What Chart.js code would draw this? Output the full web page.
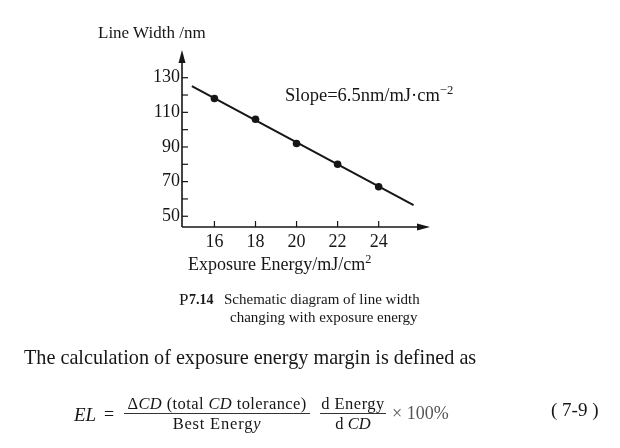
<!DOCTYPE html>
<html>
<head>
<meta charset="utf-8">
<script src="https://cdn.jsdelivr.net/npm/chart.js@4.4.1/dist/chart.umd.min.js"></script>
<style>
  html, body { margin: 0; padding: 0; background: #fff; }
  body { width: 620px; height: 448px; position: relative; overflow: hidden;
         font-family: "Liberation Serif", "Times New Roman", serif; color: #161616; }
  #chart { position: absolute; left: 0; top: 0; }
  .t { position: absolute; white-space: nowrap; line-height: 1; }
  .bar { position: absolute; height: 1px; background: #333; }
  .c { text-align: center; }
  sup { font-size: 0.68em; vertical-align: 0; position: relative; top: -0.55em; }
</style>
</head>
<body>
<canvas id="chart" width="620" height="448"></canvas>

<div class="t" style="left:98px;top:24px;font-size:17px">Line Width /nm</div>
<div class="t" style="left:285px;top:86px;font-size:18.5px">Slope=6.5nm/mJ·cm<sup>−2</sup></div>
<div class="t" style="left:188px;top:255px;font-size:18px">Exposure Energy/mJ/cm<sup>2</sup></div>

<div class="t" style="left:179px;top:291px;font-size:17px">P</div>
<div class="t" style="left:189px;top:293px;font-size:14px;font-weight:bold">7.14</div>
<div class="t" style="left:224px;top:292px;font-size:15px">Schematic diagram of line width</div>
<div class="t" style="left:230px;top:310px;font-size:15px">changing with exposure energy</div>

<div class="t" style="left:24px;top:347px;font-size:20.2px">The calculation of exposure energy margin is defined as</div>

<div class="t" style="left:74px;top:405px;font-size:19px;font-style:italic">EL</div>
<div class="t" style="left:104px;top:405px;font-size:18px">=</div>
<div class="t c" style="left:124px;top:396px;width:186px;font-size:16.5px;letter-spacing:0.4px">Δ<i>CD</i> (total <i>CD</i> tolerance)</div>
<div class="bar" style="left:124px;top:413px;width:186px"></div>
<div class="t c" style="left:124px;top:416px;width:186px;font-size:16.5px;letter-spacing:0.8px">Best Energ<i>y</i></div>
<div class="t c" style="left:320px;top:396px;width:66px;font-size:16.5px;letter-spacing:0.5px">d Energy</div>
<div class="bar" style="left:320px;top:413px;width:66px"></div>
<div class="t c" style="left:320px;top:416px;width:66px;font-size:16.5px">d <i>CD</i></div>
<div class="t" style="left:392px;top:404px;font-size:18px;color:#555">× 100%</div>
<div class="t" style="left:551px;top:400px;font-size:19px">( 7-9 )</div>

<script>
// values
const xTicks = [16, 18, 20, 22, 24];
const yTicks = [50, 70, 90, 110, 130];
const yMinor = [60, 80, 100, 120];
const energy = [16, 18, 20, 22, 24];
const lineWidth = [118, 106, 92, 80, 67];
const fitEnergy = [14.9, 25.7];
const fitWidth = [125.2, 56.4];

const ink = '#161616';
const tickFont = { family: '"Liberation Serif", "Times New Roman", serif', size: 18 };

// axes with arrow heads and inward tick marks, like the printed figure
const axesPlugin = {
  id: 'axes',
  afterDraw(chart) {
    const { ctx, chartArea: { left, right, top, bottom }, scales: { x, y } } = chart;
    ctx.save();
    ctx.strokeStyle = ink;
    ctx.fillStyle = ink;
    ctx.lineWidth = 1.6;
    const seg = (x1, y1, x2, y2) => { ctx.beginPath(); ctx.moveTo(x1, y1); ctx.lineTo(x2, y2); ctx.stroke(); };

    seg(left, bottom, left, top + 8);
    seg(left, bottom, right - 8, bottom);
    ctx.beginPath(); ctx.moveTo(left, top); ctx.lineTo(left - 3.5, top + 13); ctx.lineTo(left + 3.5, top + 13); ctx.closePath(); ctx.fill();
    ctx.beginPath(); ctx.moveTo(right, bottom); ctx.lineTo(right - 13, bottom - 3.5); ctx.lineTo(right - 13, bottom + 3.5); ctx.closePath(); ctx.fill();

    ctx.lineWidth = 1.2;
    yTicks.concat(yMinor).forEach(v => { const p = y.getPixelForValue(v); seg(left, p, left + 6, p); });
    xTicks.forEach(v => { const p = x.getPixelForValue(v); seg(p, bottom, p, bottom - 6); });
    ctx.restore();
  },
};

new Chart(document.getElementById('chart'), {
  type: 'scatter',
  data: {
    datasets: [
      {
        data: fitEnergy.map((e, i) => ({ x: e, y: fitWidth[i] })),
        showLine: true,
        borderColor: ink,
        borderWidth: 2,
        pointRadius: 0,
      },
      {
        data: energy.map((e, i) => ({ x: e, y: lineWidth[i] })),
        backgroundColor: ink,
        borderColor: ink,
        pointRadius: 3.8,
        pointBorderWidth: 0,
      },
    ],
  },
  options: {
    responsive: false,
    animation: false,
    layout: { padding: { left: 0, top: 50, right: 190, bottom: 191 } },
    plugins: { legend: { display: false }, tooltip: { enabled: false } },
    scales: {
      x: {
        min: 14.42, max: 26.5,
        grid: { display: false, drawTicks: false },
        border: { display: false },
        ticks: { color: ink, font: tickFont, padding: 4 },
        afterBuildTicks: s => { s.ticks = xTicks.map(v => ({ value: v })); },
        afterFit: s => { s.height = 30; },
      },
      y: {
        min: 43.8, max: 146,
        grid: { display: false, drawTicks: false },
        border: { display: false },
        ticks: { color: ink, font: tickFont, padding: 2 },
        afterBuildTicks: s => { s.ticks = yTicks.map(v => ({ value: v })); },
        afterFit: s => { s.width = 182; },
      },
    },
  },
  plugins: [axesPlugin],
});
</script>
</body>
</html>
